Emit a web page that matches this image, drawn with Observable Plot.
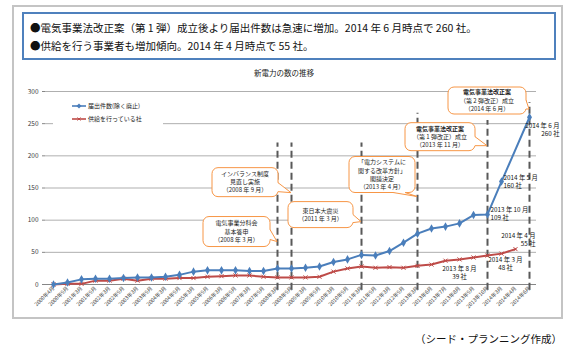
<!DOCTYPE html>
<html><head><meta charset="utf-8">
<script src="https://cdn.jsdelivr.net/npm/d3@7"></script>
<script src="https://cdn.jsdelivr.net/npm/@observablehq/plot@0.6"></script>
<style>
body{margin:0;background:#fff;font-family:"Noto Sans CJK JP","Noto Sans",sans-serif;}
#page{position:relative;width:573px;height:354px;overflow:hidden;background:#fff;}
#frame{position:absolute;left:12px;top:5px;width:547px;height:310px;border:2px solid #c4c4c4;z-index:3;pointer-events:none;}
#box{position:absolute;left:22px;top:12px;width:530px;height:44px;border:2px solid #4f81bd;}
.note{position:absolute;left:30px;font-size:10.5px;color:#111;white-space:nowrap;line-height:1;}
#title{position:absolute;left:0;width:568px;top:69px;text-align:center;font-size:7.5px;color:#222;line-height:1;}
#chart{position:absolute;left:0;top:80px;}
#legend{position:absolute;left:53px;top:98px;width:110px;height:28px;background:#fff;z-index:2;}
.lg{position:absolute;left:19px;font-size:6px;color:#222;white-space:nowrap;line-height:1;display:flex;align-items:center;}
.lg svg{margin-right:2px;}
#footer{position:absolute;right:11px;top:334px;font-size:10.5px;color:#111;line-height:1;white-space:nowrap;}
</style></head>
<body>
<div id="page">
  <div id="box"></div>
  <div class="note" style="top:23px">●電気事業法改正案（第 1 弾）成立後より届出件数は急速に増加。2014 年 6 月時点で 260 社。</div>
  <div class="note" style="top:41px">●供給を行う事業者も増加傾向。2014 年 4 月時点で 55 社。</div>
  <div id="title">新電力の数の推移</div>
  <div id="chart"></div>
  <div id="legend"></div>
  <div id="frame"></div>
  <div id="footer">（シード・プランニング作成）</div>
</div>
<script>
// ---- data ----
const categories = ["2000年4月","2000年9月","2001年3月","2001年9月","2002年3月","2002年9月","2003年3月","2003年9月","2004年3月","2004年9月","2005年3月","2005年9月","2006年3月","2006年9月","2007年3月","2007年9月","2008年3月","2008年9月","2009年3月","2009年9月","2010年3月","2010年9月","2011年3月","2011年9月","2012年3月","2012年9月","2013年3月","2013年6月","2013年7月","2013年8月","2013年9月","2013年10月","2014年3月","2014年4月","2014年6月"];
const notified = [0,3,8,9,9,10,11,11,12,15,20,22,22,22,21,21,25,25,26,28,35,39,46,45,52,65,79,87,90,95,108,109,160,null,260];
const supplying = [0,1,1,6,6,9,6,9,9,10,10,12,13,14,14,12,11,11,11,12,20,25,28,26,27,26,29,31,37,39,42,45,48,55,null];
const seriesNames = ["届出件数(除く廃止)","供給を行っている社"];
const yTicks = [0,50,100,150,200,250,300];

// event lines (category, top of dashed line, callout tip value, callout text)
const eventCats = ["2008年3月","2008年9月","2011年3月","2013年3月","2013年10月","2014年6月"];
const eventTops = [220,220,220,266,255,283];
const eventTipValues = [66,142,97,136,215,272];
const eventTexts = [
  ["電気事業分科会","基本答申","（2008 年 3 月）"],
  ["インバランス制度","見直し実施","（2008 年 9 月）"],
  ["東日本大震災","（2011 年 3 月）"],
  ["「電力システムに","関する改革方針」","閣議決定","（2013 年 4 月）"],
  ["電気事業法改正案","（第 1 弾改正）成立","（2013 年 11 月）"],
  ["電気事業法改正案","（第 2 弾改正）成立","（2014 年 6 月）"]
];
const eventBold = [false,false,false,false,true,true];

// data labels
const labelCats = ["2013年10月","2014年3月","2014年6月","2014年4月","2014年3月","2013年8月"];
const labelSeries = ["n","n","n","s","s","s"];
const labelTexts = ["2013 年 10 月\n109 社","2014 年 5 月\n160 社","2014 年 6 月\n260 社","2014 年 4 月\n55 社","2014 年 3 月\n48 社","2013 年 8 月\n39 社"];

// ---- layout (pixels, styling) ----
const BLUE = "#4a7ebb", RED = "#be4b48", ORANGE = "#f79646";
const calloutLayout = [
  {dx:-74, dy:-25, w:67, h:30, side:"right", base:[13,23]},
  {dx:-79, dy:-25, w:66, h:29, side:"right", base:[15,24]},
  {dx:-73, dy:-20, w:65, h:26, side:"right", base:[13,21]},
  {dx:-68, dy:-40, w:66, h:36, side:"bottom", base:[44,56]},
  {dx:-82, dy:-23, w:70, h:28, side:"right", base:[14,23]},
  {dx:-81, dy:-22, w:78, h:27, side:"right", base:[13,22]}
];
const labelLayout = [
  {anchor:"start", dx:3, dy:-1},
  {anchor:"start", dx:2, dy:0},
  {anchor:"end", dx:30, dy:12},
  {anchor:"end", dx:20, dy:-10},
  {anchor:"middle", dx:4, dy:10},
  {anchor:"middle", dx:0, dy:13}
];

// ---- tables ----
const rowsN = categories.map((c,i)=>({cat:c, value:notified[i]})).filter(d=>d.value!=null);
const rowsS = categories.map((c,i)=>({cat:c, value:supplying[i]})).filter(d=>d.value!=null);
const events = eventCats.map((c,i)=>({cat:c, top:eventTops[i], tip:eventTipValues[i], lines:eventTexts[i], bold:eventBold[i]}));
const labels = labelCats.map((c,i)=>{
  const arr = labelSeries[i]==="n" ? notified : supplying;
  return {cat:c, value:arr[categories.indexOf(c)], text:labelTexts[i]};
});

function calloutMark(index, scales) {
  const g = d3.create("svg:g").attr("font-size", 6).attr("fill", "#222");
  events.forEach((e,i)=>{
    const L = calloutLayout[i];
    const tx = scales.x(e.cat), ty = scales.y(e.tip);
    const x0 = tx + L.dx, y0 = ty + L.dy;
    g.append("rect").attr("x",x0).attr("y",y0).attr("width",L.w).attr("height",L.h)
      .attr("rx",6).attr("fill","#fff").attr("stroke",ORANGE).attr("stroke-width",1);
    let b1, b2, c1, c2;
    if (L.side==="right") {
      b1=[x0+L.w, y0+L.base[0]]; b2=[x0+L.w, y0+L.base[1]];
      c1=[b1[0]-1.5,b1[1]]; c2=[b2[0]-1.5,b2[1]];
    } else {
      b1=[x0+L.base[0], y0+L.h]; b2=[x0+L.base[1], y0+L.h];
      c1=[b1[0],b1[1]-1.5]; c2=[b2[0],b2[1]-1.5];
    }
    g.append("path").attr("d",`M${c1}L${b1}L${tx},${ty}L${b2}L${c2}Z`).attr("fill","#fff").attr("stroke","none");
    g.append("path").attr("d",`M${b1}L${tx},${ty}L${b2}`).attr("fill","none").attr("stroke",ORANGE).attr("stroke-width",1);
    const n = e.lines.length, lh = 8.2;
    const cy = y0 + L.h/2 - (n-1)*lh/2;
    e.lines.forEach((t,j)=>{
      g.append("text").attr("x",x0+L.w/2).attr("y",cy+j*lh).attr("dy","0.35em")
        .attr("text-anchor","middle").attr("font-weight", (e.bold && j===0) ? "bold" : null).text(t);
    });
  });
  return g.node();
}

const chart = Plot.plot({
  width: 561, height: 238,
  marginLeft: 45, marginRight: 25, marginTop: 11, marginBottom: 34,
  style: {fontFamily: '"Noto Sans CJK JP","Noto Sans",sans-serif', background: "transparent", overflow: "hidden"},
  x: {type: "point", domain: categories, padding: 0.5, label: null},
  y: {domain: [0, 300], label: null},
  marks: [
    Plot.ruleY(yTicks.filter(d=>d>0), {stroke: "#a6a6a6", strokeWidth: 0.9}),
    Plot.ruleY([0], {stroke: "#868686", strokeWidth: 1}),
    Plot.axisY({ticks: yTicks, tickSize: 3, tickPadding: 4, fontSize: 6.5, stroke: "#868686", fill: "#404040", label: null}),
    Plot.axisX({tickRotate: -45, tickSize: 0, tickPadding: 3, fontSize: 5.3, fill: "#404040", label: null}),
    Plot.ruleX(events, {x: "cat", y1: -9, y2: "top", stroke: "#595959", strokeWidth: 2, strokeDasharray: "7,4"}),
    calloutMark,
    Plot.line(rowsS, {x: "cat", y: "value", stroke: RED, strokeWidth: 2}),
    Plot.dot(rowsS, {x: "cat", y: "value", symbol: "times", r: 2, stroke: RED, strokeWidth: 1}),
    Plot.line(rowsN, {x: "cat", y: "value", stroke: BLUE, strokeWidth: 2}),
    Plot.dot(rowsN, {x: "cat", y: "value", symbol: "diamond", r: 2.6, fill: BLUE, stroke: "none"}),
    ...labels.map((d,i)=>Plot.text([d], {x: "cat", y: "value", text: "text", textAnchor: labelLayout[i].anchor,
      dx: labelLayout[i].dx, dy: labelLayout[i].dy, fontSize: 6.3, lineHeight: 1.25, fill: "#111"}))
  ]
});
document.getElementById("chart").appendChild(chart);

// legend
const legend = document.getElementById("legend");
[[BLUE,"diamond"],[RED,"times"]].forEach(([col,sym],i)=>{
  const row = document.createElement("div");
  row.className = "lg";
  row.style.top = (i===0 ? 5 : 18) + "px";
  row.style.left = "19px";
  const mk = sym==="diamond"
    ? `<path d="M7,0.5L9.5,3L7,5.5L4.5,3Z" fill="${col}"/>`
    : `<path d="M5.5,1.5L8.5,4.5M8.5,1.5L5.5,4.5" stroke="${col}" stroke-width="1"/>`;
  row.innerHTML = `<svg width="14" height="6"><line x1="0" y1="3" x2="14" y2="3" stroke="${col}" stroke-width="1.6"/>${mk}</svg><span>${seriesNames[i]}</span>`;
  legend.appendChild(row);
});
</script>
</body></html>
